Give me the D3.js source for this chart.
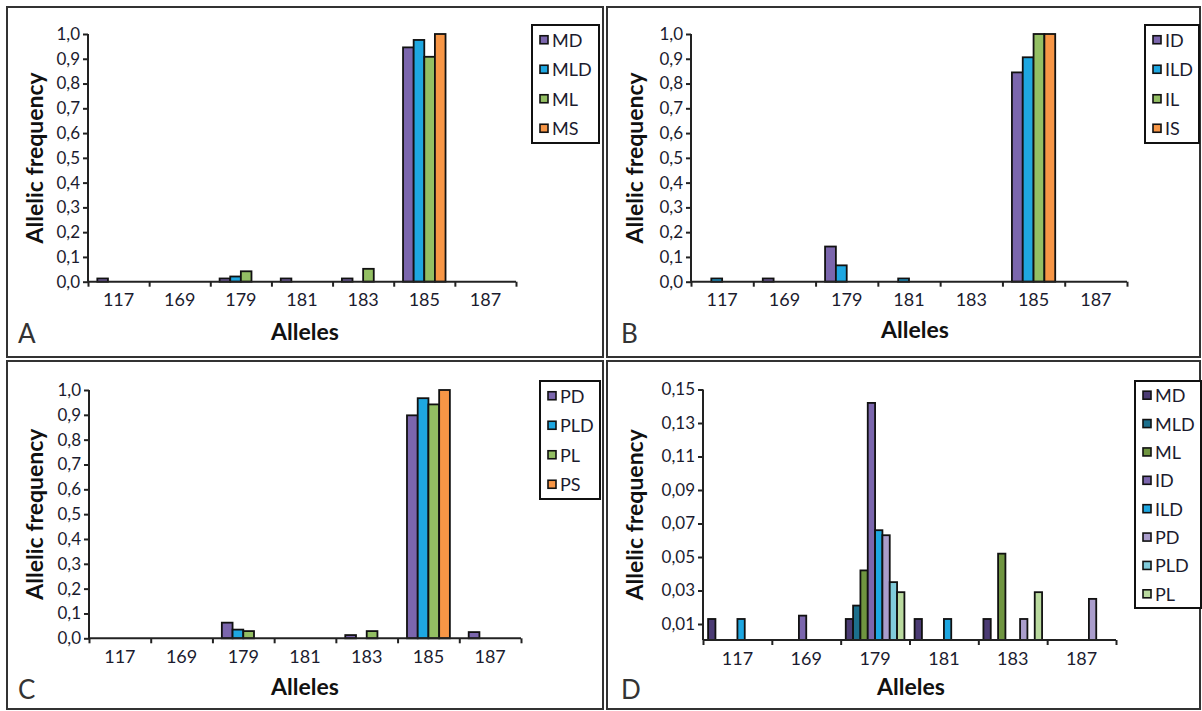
<!DOCTYPE html>
<html>
<head>
<meta charset="utf-8">
<script src="https://cdn.jsdelivr.net/npm/d3@7"></script>
<style>
  html, body { margin: 0; padding: 0; background: #fff; }
  svg text { font-family: Lato, "Open Sans", sans-serif; }
</style>
</head>
<body>
<svg id="chart" width="1202" height="711"></svg>
<script>
// ---------------- DATA ----------------
const allelesABC = ["117", "169", "179", "181", "183", "185", "187"];
const allelesD = ["117", "169", "179", "181", "183", "187"];

const seriesA = ["MD", "MLD", "ML", "MS"];
const A_MD  = [0.013, 0, 0.013, 0.013, 0.013, 0.946, 0];
const A_MLD = [0, 0, 0.021, 0, 0, 0.976, 0];
const A_ML  = [0, 0, 0.042, 0, 0.052, 0.908, 0];
const A_MS  = [0, 0, 0, 0, 0, 1.0, 0];

const seriesB = ["ID", "ILD", "IL", "IS"];
const B_ID  = [0, 0.013, 0.142, 0, 0, 0.845, 0];
const B_ILD = [0.013, 0, 0.066, 0.013, 0, 0.906, 0];
const B_IL  = [0, 0, 0, 0, 0, 1.0, 0];
const B_IS  = [0, 0, 0, 0, 0, 1.0, 0];

const seriesC = ["PD", "PLD", "PL", "PS"];
const C_PD  = [0, 0, 0.063, 0, 0.013, 0.898, 0.025];
const C_PLD = [0, 0, 0.035, 0, 0, 0.967, 0];
const C_PL  = [0, 0, 0.029, 0, 0.029, 0.942, 0];
const C_PS  = [0, 0, 0, 0, 0, 1.0, 0];

const seriesD = ["MD", "MLD", "ML", "ID", "ILD", "PD", "PLD", "PL"];
const D_MD  = [0.013, 0, 0.013, 0.013, 0.013, 0];
const D_MLD = [0, 0, 0.021, 0, 0, 0];
const D_ML  = [0, 0, 0.042, 0, 0.052, 0];
const D_ID  = [0, 0.015, 0.142, 0, 0, 0];
const D_ILD = [0.013, 0, 0.066, 0.013, 0, 0];
const D_PD  = [0, 0, 0.063, 0, 0.013, 0.025];
const D_PLD = [0, 0, 0.035, 0, 0, 0];
const D_PL  = [0, 0, 0.029, 0, 0.029, 0];

const ticksABC = [0, 0.1, 0.2, 0.3, 0.4, 0.5, 0.6, 0.7, 0.8, 0.9, 1.0];
const ticksD = [0.01, 0.03, 0.05, 0.07, 0.09, 0.11, 0.13, 0.15];

const colorsABC = ["#7b66ad", "#1ea7e1", "#93bf63", "#f79646"];
const colorsD = ["#4b3b74", "#1c6f8c", "#6f9540", "#7b66ad", "#1ea7e1", "#aa9dcc", "#80cbda", "#bada9f"];

// ---------------- LAYOUT ----------------
const panels = [
  { letter: "A", alleles: allelesABC, series: seriesA, values: [A_MD, A_MLD, A_ML, A_MS], colors: colorsABC,
    ticks: ticksABC, domain: [0, 1.0], fmt: 1,
    box: [7, 7, 603, 357], px: [88, 516], py: [281.7, 34], gap: 0.305,
    legend: [532, 25, 67, 118], yTitleX: 34, xTitleY: 340, xTitleX: 305, letterPos: [18, 343] },
  { letter: "B", alleles: allelesABC, series: seriesB, values: [B_ID, B_ILD, B_IL, B_IS], colors: colorsABC,
    ticks: ticksABC, domain: [0, 1.0], fmt: 1,
    box: [607, 7, 1200, 357], px: [691, 1127], py: [281.7, 34], gap: 0.305,
    legend: [1145, 25, 54, 118], yTitleX: 634, xTitleY: 338, xTitleX: 915, letterPos: [621, 343] },
  { letter: "C", alleles: allelesABC, series: seriesC, values: [C_PD, C_PLD, C_PL, C_PS], colors: colorsABC,
    ticks: ticksABC, domain: [0, 1.0], fmt: 1,
    box: [7, 361, 603, 709], px: [89, 521], py: [638.3, 390], gap: 0.305,
    legend: [540, 381, 60, 118], yTitleX: 34, xTitleY: 695, xTitleX: 305, letterPos: [18, 699] },
  { letter: "D", alleles: allelesD, series: seriesD,
    values: [D_MD, D_MLD, D_ML, D_ID, D_ILD, D_PD, D_PLD, D_PL], colors: colorsD,
    ticks: ticksD, domain: [0.00045, 0.15], fmt: 2,
    box: [607, 361, 1200, 709], px: [703, 1116], py: [640, 389.5], gap: 0.148,
    legend: [1135, 381, 66, 227], yTitleX: 634, xTitleY: 695, xTitleX: 911, letterPos: [621, 699] }
];

const svg = d3.select("#chart");
svg.append("rect").attr("width", 1202).attr("height", 711).attr("fill", "#fff");

const textColor = "#1b1b2e";
const axisColor = "#222";

panels.forEach(p => {
  const g = svg.append("g");
  // panel border
  g.append("rect")
    .attr("x", p.box[0]).attr("y", p.box[1])
    .attr("width", p.box[2] - p.box[0]).attr("height", p.box[3] - p.box[1])
    .attr("fill", "none").attr("stroke", "#333").attr("stroke-width", 2);

  const x = d3.scaleBand().domain(p.alleles).range(p.px).padding(0);
  const bw = x.bandwidth();
  const x1 = d3.scaleBand().domain(p.series)
    .range([bw * p.gap / 2, bw * (1 - p.gap / 2)]).padding(0);
  const y = d3.scaleLinear().domain(p.domain).range(p.py);
  const idx = d3.scaleLinear().domain([0, p.alleles.length]).range(p.px);

  // bars
  p.series.forEach((s, si) => {
    const vals = p.values[si];
    g.append("g").selectAll("rect")
      .data(p.alleles.map((a, i) => ({ a, v: vals[i] })).filter(d => d.v > 0))
      .join("rect")
      .attr("x", d => x(d.a) + x1(s))
      .attr("y", d => y(d.v))
      .attr("width", x1.bandwidth())
      .attr("height", d => y(p.domain[0]) - y(d.v))
      .attr("fill", p.colors[si])
      .attr("stroke", "#111")
      .attr("stroke-width", 1.8);
  });

  // y axis
  const yAxis = g.append("g")
    .attr("transform", `translate(${p.px[0]},0)`)
    .call(d3.axisLeft(y).tickValues(p.ticks).tickSize(5).tickPadding(3)
      .tickFormat(d => d.toFixed(p.fmt).replace(".", ",")));
  yAxis.select(".domain").attr("stroke", axisColor).attr("stroke-width", 2)
    .attr("d", `M0,${p.py[1]}V${p.py[0]}`);
  yAxis.selectAll(".tick line").attr("stroke", axisColor).attr("stroke-width", 2);
  yAxis.selectAll(".tick text").attr("fill", textColor).style("font-size", "17px");

  // x axis: boundary ticks
  const xAxis = g.append("g")
    .attr("transform", `translate(0,${p.py[0]})`)
    .call(d3.axisBottom(idx).tickValues(d3.range(p.alleles.length + 1)).tickSize(5).tickFormat(""));
  xAxis.select(".domain").attr("stroke", axisColor).attr("stroke-width", 2)
    .attr("d", `M${p.px[0]},0H${p.px[1]}`);
  xAxis.selectAll(".tick line").attr("stroke", axisColor).attr("stroke-width", 2);

  // x labels
  const xLab = g.append("g")
    .attr("transform", `translate(0,${p.py[0]})`)
    .call(d3.axisBottom(x).tickSize(0).tickPadding(12));
  xLab.select(".domain").remove();
  xLab.selectAll(".tick text").attr("fill", textColor).style("font-size", "18px");

  // titles
  g.append("text")
    .attr("transform", `translate(${p.yTitleX},${(p.py[0] + p.py[1]) / 2}) rotate(-90)`)
    .attr("text-anchor", "middle").attr("dominant-baseline", "central")
    .style("font-size", "23px").style("font-weight", "bold").attr("fill", "#111")
    .text("Allelic frequency");
  g.append("text")
    .attr("x", p.xTitleX).attr("y", p.xTitleY)
    .attr("text-anchor", "middle")
    .style("font-size", "23px").style("font-weight", "bold").attr("fill", "#111")
    .text("Alleles");
  g.append("text")
    .attr("x", p.letterPos[0]).attr("y", p.letterPos[1])
    .style("font-size", "26px").attr("fill", "#333")
    .text(p.letter);

  // legend
  const [lx, ly, lw, lh] = p.legend;
  g.append("rect").attr("x", lx).attr("y", ly).attr("width", lw).attr("height", lh)
    .attr("fill", "#fff").attr("stroke", "#111").attr("stroke-width", 2);
  const rowH = lh / p.series.length;
  const lg = g.append("g").selectAll("g").data(p.series).join("g")
    .attr("transform", (d, i) => `translate(${lx + 8},${ly + rowH * (i + 0.5)})`);
  lg.append("rect").attr("x", 0).attr("y", -4).attr("width", 8).attr("height", 8)
    .attr("fill", (d, i) => p.colors[i]).attr("stroke", "#111").attr("stroke-width", 1.6);
  lg.append("text").attr("x", 12).attr("y", 0).attr("dominant-baseline", "central")
    .style("font-size", "18px").attr("fill", textColor).text(d => d);
});
</script>
</body>
</html>
